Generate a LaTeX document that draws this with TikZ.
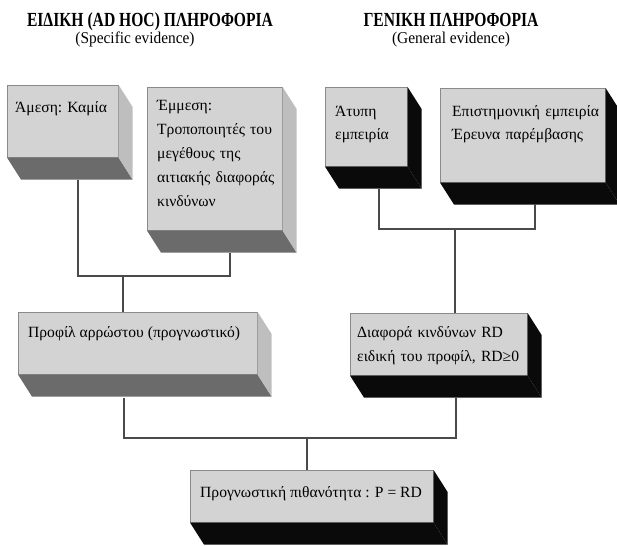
\documentclass[tikz,border=0pt]{standalone}
\usepackage{fontspec}
\setmainfont{Liberation Serif}
\usepackage{graphicx}
\definecolor{facegray}{HTML}{D3D3D3}
\definecolor{edgegray}{HTML}{8A8A8A}
\definecolor{botgray}{HTML}{6B6B6B}
\definecolor{sidegray}{HTML}{BEBEBE}
\definecolor{sideblack}{HTML}{0A0A0A}
\definecolor{linegray}{HTML}{4A4A4A}
\tikzset{
  face/.style={draw=edgegray, line width=0.6pt, fill=facegray, inner sep=0pt, anchor=north west, rectangle},
  txt/.style={inner sep=0pt, anchor=base west, align=left, font=\fontsize{15.6}{24}\selectfont},
  conn/.style={draw=linegray, line width=1.1pt},
  ttl/.style={inner sep=0pt, anchor=base, font=\bfseries\fontsize{20}{24}\selectfont},
  subttl/.style={inner sep=0pt, anchor=base, font=\fontsize{16.5}{20}\selectfont},
}
\newcommand{\ExtrudeBox}[3]{%
  \fill[#2] (#1.south west) -- ([shift={(14,22)}]#1.south west) -- ([shift={(14,22)}]#1.south east) -- (#1.south east) -- cycle;
  \fill[#3] (#1.north east) -- ([shift={(14,22)}]#1.north east) -- ([shift={(14,22)}]#1.south east) -- (#1.south east) -- cycle;
}
\begin{document}
\begin{tikzpicture}[x=1pt,y=-1pt]
\useasboundingbox (0,0) rectangle (617,545);
\clip (0,0) rectangle (617,545);

% titles
\node[ttl] (title1) at (150,27) {\resizebox{246pt}{\height}{ΕΙΔΙΚΗ (AD HOC) ΠΛΗΡΟΦΟΡΙΑ}};
\node[subttl] (sub1) at (135,44) {\resizebox{119pt}{\height}{(Specific evidence)}};
\node[ttl] (title2) at (451,27) {\resizebox{175pt}{\height}{ΓΕΝΙΚΗ ΠΛΗΡΟΦΟΡΙΑ}};
\node[subttl] (sub2) at (451,44) {\resizebox{118pt}{\height}{(General evidence)}};

% boxes
\node[face, minimum width=111pt, minimum height=72pt] (b1) at (7,85) {};
\node[face, minimum width=135pt, minimum height=143pt] (b2) at (147,87) {};
\node[face, minimum width=82pt, minimum height=79pt] (b3) at (325,87) {};
\node[face, minimum width=165pt, minimum height=94pt] (b4) at (440,88) {};
\node[face, minimum width=239pt, minimum height=62pt] (prof) at (18,312) {};
\node[face, minimum width=177pt, minimum height=62pt] (diaf) at (350,313) {};
\node[face, minimum width=243pt, minimum height=52pt] (fin) at (190,470) {};

\ExtrudeBox{b1}{botgray}{sidegray}
\ExtrudeBox{b2}{botgray}{sidegray}
\ExtrudeBox{prof}{botgray}{sidegray}
\ExtrudeBox{b3}{sideblack}{sideblack}
\ExtrudeBox{b4}{sideblack}{sideblack}
\ExtrudeBox{diaf}{sideblack}{sideblack}
\ExtrudeBox{fin}{sideblack}{sideblack}

% texts
\node[txt] (t1) at (15,113) {Άμεση: Καμία};
\node[txt, text width=130pt] (t2) at (157,111) {Έμμεση:\\Τροποποιητές του\\μεγέθους της\\αιτιακής διαφοράς\\κινδύνων};
\node[txt, text width=75pt, font=\fontsize{15.6}{23}\selectfont] (t3) at (335,117) {Άτυπη\\εμπειρία};
\node[txt, text width=162pt, font=\fontsize{15.6}{23}\selectfont] (t4) at (452,117) {Επιστημονική εμπειρία\\Έρευνα παρέμβασης};
\node[txt] (t5) at (28,337) {Προφίλ αρρώστου (προγνωστικό)};
\node[txt, text width=170pt] (t6) at (357,337) {Διαφορά κινδύνων RD\\ειδική του προφίλ, RD≥0};
\node[txt] (t7) at (200,497) {Προγνωστική πιθανότητα : P = RD};

% connectors
\coordinate (j1) at (123,276);
\draw[conn] ([shift={(71,22)}]b1.south west) |- (j1);
\draw[conn] ([shift={(83,22)}]b2.south west) |- (j1);
\draw[conn] (j1) -- (j1 |- prof.north);
\coordinate (j2) at (455,229);
\draw[conn] ([shift={(54,22)}]b3.south west) |- (j2);
\draw[conn] ([shift={(95,21)}]b4.south west) |- (j2);
\draw[conn] (j2) -- (j2 |- diaf.north);
\coordinate (j3) at (307,438);
\draw[conn] ([shift={(106,23)}]prof.south west) |- (j3);
\draw[conn] ([shift={(106,22)}]diaf.south west) |- (j3);
\draw[conn] (j3) -- (j3 |- fin.north);
\end{tikzpicture}
\end{document}
